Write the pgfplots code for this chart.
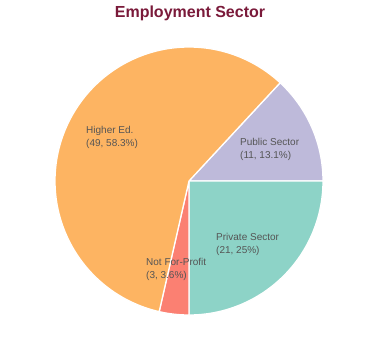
\documentclass[border=0pt]{standalone}
\usepackage{pgfplots}
\pgfplotsset{compat=1.18}
\usepackage{fontspec}
\setmainfont{Liberation Sans}
\definecolor{cHigher}{HTML}{FDB462}
\definecolor{cPublic}{HTML}{BEBADA}
\definecolor{cPrivate}{HTML}{8DD3C7}
\definecolor{cNFP}{HTML}{FB8072}
\definecolor{cTitle}{HTML}{7A1A3A}
\definecolor{cLabel}{HTML}{555555}
% counts
\def\nPublic{11}
\def\nPrivate{21}
\def\nNFP{3}
\def\nHigher{49}
\pgfmathsetmacro{\total}{\nPublic+\nPrivate+\nNFP+\nHigher}
\pgfmathsetmacro{\aA}{(\nPublic/\total)*360}
\pgfmathsetmacro{\aB}{0}
\pgfmathsetmacro{\aC}{\aB-(\nPrivate/\total)*360}
\pgfmathsetmacro{\aD}{\aC-(\nNFP/\total)*360}
\pgfmathsetmacro{\aE}{\aD-(\nHigher/\total)*360}
\begin{document}
\begin{tikzpicture}
\begin{axis}[
  scale only axis, width=380pt, height=360pt,
  xmin=0, xmax=380, ymin=0, ymax=360,
  hide axis, clip=false,
]
\path (rel axis cs:0,0) -- (rel axis cs:1,1);
\def\cx{189}\def\cy{179}\def\r{134}
\addplot[fill=cPublic, draw=white, line width=1.3pt, domain=\aB:\aA, samples=60]
  ({\cx+\r*cos(x)},{\cy+\r*sin(x)}) -- (\cx,\cy) -- cycle;
\addplot[fill=cPrivate, draw=white, line width=1.3pt, domain=\aC:\aB, samples=80]
  ({\cx+\r*cos(x)},{\cy+\r*sin(x)}) -- (\cx,\cy) -- cycle;
\addplot[fill=cNFP, draw=white, line width=1.3pt, domain=\aD:\aC, samples=20]
  ({\cx+\r*cos(x)},{\cy+\r*sin(x)}) -- (\cx,\cy) -- cycle;
\addplot[fill=cHigher, draw=white, line width=1.3pt, domain=\aE:\aD, samples=160]
  ({\cx+\r*cos(x)},{\cy+\r*sin(x)}) -- (\cx,\cy) -- cycle;
\node[font=\fontsize{16}{19}\selectfont\bfseries, text=cTitle] at (190,346.5) {Employment Sector};
\tikzset{lbl/.style={anchor=west, align=left, inner sep=0pt, text=cLabel, font=\fontsize{10}{13.5}\selectfont}}
\node[lbl] at (86,222.5) {Higher Ed.\\(49, 58.3\%)};
\node[lbl] at (240,210.5) {Public Sector\\(11, 13.1\%)};
\node[lbl] at (216,115.5) {Private Sector\\(21, 25\%)};
\node[lbl] at (146,90.5) {Not For-Profit\\(3, 3.6\%)};
\end{axis}
\end{tikzpicture}
\end{document}
